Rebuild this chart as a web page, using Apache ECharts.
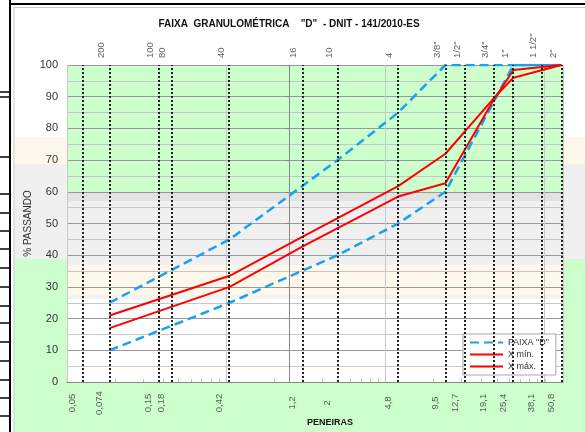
<!DOCTYPE html>
<html>
<head>
<meta charset="utf-8">
<script src="https://cdn.jsdelivr.net/npm/echarts@6/dist/echarts.min.js"></script>
<style>
  html, body { margin: 0; padding: 0; background: #fff; }
  #chart { width: 585px; height: 432px; }
</style>
</head>
<body>
<div id="chart"></div>
<script>
// peneiras (mm) e rótulos
const sieveSizes = [0.05, 0.074, 0.15, 0.18, 0.42, 1.2, 2.0, 4.8, 9.5, 12.7, 19.1, 25.4, 38.1, 50.8]
const sizeLabels = ['0,05', '0,074', '0,15', '0,18', '0,42', '1,2', '2', '4,8', '9,5', '12,7', '19,1', '25,4', '38,1', '50,8']
const sieveNames = ['', '200', '100', '80', '40', '16', '10', '4', '3/8"', '1/2"', '3/4"', '1"', '1 1/2"', '2"']

// faixa "D" - DNIT 141/2010
const faixaSizes = [0.074, 0.42, 2.0, 4.8, 9.5, 25.4, 50.8]
const faixaMin = [10, 25, 40, 50, 60, 100, 100]
const faixaMax = [25, 45, 70, 85, 100, 100, 100]

// curvas X mín. / X máx.
const curveSizes = [0.074, 0.42, 1.2, 4.8, 9.5, 19.1, 25.4, 50.8]
const xMin = [17, 30, 42.7, 58.5, 62.7, 89, 98.4, 100]
const xMax = [21, 33.5, 45.8, 61.8, 72, 89.5, 96, 100]

const FONT = '"Liberation Sans", Arial, sans-serif'
const lg = v => Math.log10(v)
const pairs = (sizes, vals) => sizes.map((s, i) => [lg(s), vals[i]])

const X_MIN = lg(0.04)
const X_MAX = lg(52)

// marcas secundárias do eixo log (0,04 * k * 10^n)
const minorTicks = []
for (let e = 0; e <= 3; e++) {
  for (let k = 1; k <= 9; k++) {
    const v = 0.04 * k * Math.pow(10, e)
    if (v <= 52) minorTicks.push(lg(v))
  }
}

// fundo (células da planilha atrás do gráfico)
function rect(x, y, w, h, fill) {
  return { type: 'rect', z: -10, silent: true, shape: { x, y, width: w, height: h }, style: { fill } }
}
function line(x1, y1, x2, y2, stroke, w) {
  return { type: 'line', z: -5, silent: true, shape: { x1, y1, x2, y2 }, style: { stroke, lineWidth: w } }
}
const GREEN = '#ccffcc'
const BEIGE = '#fdf8ea'
const GRAY = '#f0f0f0'
const background = [
  // área de plotagem
  rect(67, 65, 496, 127, GREEN),
  rect(67, 192, 496, 9, '#e2e2e2'),
  rect(67, 201, 496, 64, GRAY),
  rect(67, 265, 496, 30, BEIGE),
  rect(67, 295, 496, 4, '#f3f3f3'),
  // faixa esquerda
  rect(14, 137, 53, 27, BEIGE),
  rect(14, 164, 53, 95, GRAY),
  rect(14, 259, 53, 173, GREEN),
  // faixa direita
  rect(563, 137, 22, 27, BEIGE),
  rect(563, 164, 22, 95, GRAY),
  rect(563, 259, 22, 173, GREEN),
  // abaixo do eixo
  rect(67, 383, 496, 49, GREEN),
  // bordas
  line(14, 7.5, 585, 7.5, '#c8c8c8', 1),
  line(14, 7.5, 14, 432, '#c8c8c8', 1),
  line(10, 0, 10, 432, '#000', 2),
  line(10, 4, 585, 4, '#000', 2),
]
;[92, 97, 157, 194, 213, 231, 249, 268, 287, 306, 323, 342, 361, 380, 398, 416].forEach((y) => {
  background.push(line(0, y, 10, y, '#000', 1.5))
})

const chart = echarts.init(document.getElementById('chart'))

chart.setOption({
  animation: false,
  textStyle: { fontFamily: FONT },
  title: {
    text: 'FAIXA  GRANULOMÉTRICA    "D"  - DNIT - 141/2010-ES',
    left: 284,
    textAlign: 'center',
    top: 14,
    textStyle: { fontSize: 10, fontWeight: 'bold', color: '#111', fontFamily: FONT },
  },
  graphic: [
    ...background,
    {
      type: 'text',
      left: 307,
      top: 418,
      silent: true,
      style: { text: 'PENEIRAS', fontSize: 9, fontWeight: 'bold', fill: '#111', fontFamily: FONT },
    },
  ],
  legend: {
    data: ['FAIXA "D"', 'X mín.', 'X máx.'],
    orient: 'vertical',
    left: 463,
    top: 334,
    padding: [4, 7, 4, 6],
    itemWidth: 33,
    itemHeight: 10,
    itemGap: 3,
    backgroundColor: '#fff',
    borderColor: '#a8a8a8',
    borderWidth: 1,
    borderRadius: 0,
    itemStyle: { opacity: 0 },
    textStyle: { fontSize: 9, color: '#333', fontFamily: FONT },
  },
  grid: { left: 67, right: 22, top: 65, bottom: 50 },
  xAxis: [
    {
      type: 'value',
      min: X_MIN,
      max: X_MAX,
      interval: 1,
      axisLine: { show: true, lineStyle: { color: '#888', width: 1 } },
      axisTick: { show: false },
      axisLabel: { show: false },
      splitLine: { show: true, lineStyle: { color: '#c8c8c8', width: 1 } },
    },
    {
      // só as marcas secundárias
      type: 'value',
      position: 'bottom',
      min: X_MIN,
      max: X_MAX,
      axisLine: { show: false },
      axisTick: { show: true, inside: true, length: 3, customValues: minorTicks, lineStyle: { color: '#c0c0c0' } },
      axisLabel: { show: false },
      splitLine: { show: false },
    },
  ],
  yAxis: {
    type: 'value',
    min: 0,
    max: 100,
    interval: 10,
    name: '% PASSANDO',
    nameLocation: 'middle',
    nameGap: 34,
    nameMoveOverlap: false,
    nameTextStyle: { fontSize: 10, color: '#333', fontFamily: FONT },
    axisLine: { show: true, lineStyle: { color: '#888' } },
    axisTick: { show: true, length: 4, lineStyle: { color: '#888' } },
    axisLabel: { fontSize: 11, color: '#333', margin: 9, fontFamily: FONT },
    splitLine: { show: true, lineStyle: { color: '#999', width: 1 } },
    minorTick: { show: false, splitNumber: 2 },
    minorSplitLine: { show: true, lineStyle: { color: '#c6c6c6', width: 1 } },
  },
  series: [
    // rótulos inferiores (mm) + linhas pontilhadas das peneiras
    {
      type: 'scatter',
      silent: true,
      clip: false,
      symbolSize: 1,
      itemStyle: { color: 'rgba(0,0,0,0)' },
      data: sieveSizes.map(s => [lg(s), 0]),
      label: {
        show: true,
        position: 'inside',
        rotate: 90,
        align: 'center',
        verticalAlign: 'middle',
        offset: [-21, -10],
        fontSize: 9.5,
        color: '#333',
        fontFamily: FONT,
        formatter: p => sizeLabels[p.dataIndex],
      },
      markLine: {
        silent: true,
        symbol: ['none', 'none'],
        label: { show: false },
        lineStyle: { color: '#222', width: 2, type: [2, 2] },
        data: sieveSizes.map(s => ({ xAxis: lg(s) })),
      },
    },
    // rótulos superiores (nº da peneira)
    {
      type: 'scatter',
      silent: true,
      clip: false,
      symbolSize: 1,
      itemStyle: { color: 'rgba(0,0,0,0)' },
      data: sieveSizes.map((s, i) => ({ value: [lg(s), 100], name: sieveNames[i] })),
      label: {
        show: true,
        position: 'inside',
        rotate: 90,
        align: 'left',
        verticalAlign: 'middle',
        offset: [7, -8.5],
        fontSize: 9.5,
        color: '#333',
        fontFamily: FONT,
        formatter: p => p.name,
      },
    },
    {
      name: 'FAIXA "D"',
      type: 'line',
      symbol: 'none',
      color: '#1aa0f0',
      lineStyle: { width: 2.5, type: [9, 5] },
      data: pairs(faixaSizes, faixaMax),
    },
    {
      name: 'FAIXA "D"',
      type: 'line',
      symbol: 'none',
      color: '#1aa0f0',
      lineStyle: { width: 2.5, type: [9, 5] },
      data: pairs(faixaSizes, faixaMin),
    },
    {
      name: 'X mín.',
      type: 'line',
      symbol: 'none',
      color: '#ff0000',
      lineStyle: { width: 2 },
      data: pairs(curveSizes, xMin),
    },
    {
      name: 'X máx.',
      type: 'line',
      symbol: 'none',
      color: '#ff0000',
      lineStyle: { width: 2 },
      data: pairs(curveSizes, xMax),
    },
  ],
})
</script>
</body>
</html>
